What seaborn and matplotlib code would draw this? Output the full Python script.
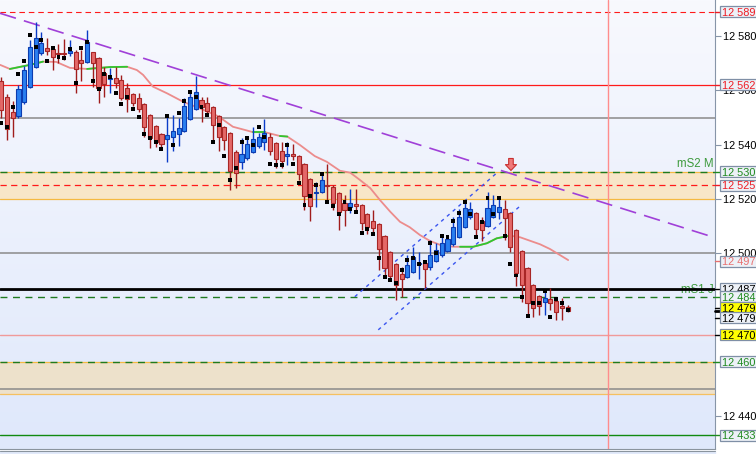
import numpy as np
import pandas as pd
import matplotlib
matplotlib.use("Agg")
import matplotlib.pyplot as plt
import seaborn as sns
from matplotlib.colors import LinearSegmentedColormap
from matplotlib.lines import Line2D
from matplotlib.patches import Rectangle

# --- candle data (5 min bars) ---
opens = [12563.5, 12557.7, 12551.9, 12550.7, 12555.6, 12561.4, 12568.7, 12573.9, 12575.5, 12575.1,
         12573.8, 12573.8, 12573.7, 12574.0, 12571.2, 12570.6, 12574.0, 12571.8, 12566.5, 12564.2,
         12564.5, 12563.8, 12560.8, 12558.6, 12557.1, 12554.9, 12550.8, 12546.8, 12543.8, 12542.0,
         12542.7, 12543.8, 12544.9, 12549.4, 12553.3, 12556.5, 12555.3, 12553.8, 12550.6, 12546.7,
         12544.2, 12537.4, 12533.5, 12535.0, 12537.4, 12539.6, 12541.1, 12542.7, 12540.5, 12537.7,
         12536.0, 12536.4, 12536.0, 12532.8, 12527.4, 12522.2, 12522.5, 12525.2, 12524.5, 12522.1,
         12518.4, 12517.2, 12518.0, 12517.8, 12514.5, 12511.9, 12510.7, 12506.4, 12500.5, 12496.0,
         12492.3, 12491.2, 12493.2, 12495.9, 12496.3, 12495.1, 12497.3, 12499.4, 12501.0, 12503.3,
         12506.1, 12509.8, 12513.3, 12514.7, 12511.9, 12510.2, 12513.5, 12515.3, 12516.2, 12514.7,
         12508.6, 12500.9, 12494.5, 12488.3, 12484.3, 12482.2, 12483.1, 12482.4, 12480.2, 12480.1]
highs = [12564.9, 12558.7, 12556.1, 12562.0, 12569.0, 12578.6, 12585.2, 12581.6, 12579.2, 12576.1,
         12577.1, 12578.8, 12578.6, 12574.9, 12574.9, 12582.3, 12574.3, 12572.3, 12568.7, 12568.1,
         12568.7, 12565.7, 12562.6, 12559.0, 12558.9, 12555.4, 12551.2, 12547.3, 12544.2, 12550.9,
         12550.9, 12549.7, 12557.1, 12559.5, 12565.3, 12557.7, 12557.5, 12554.3, 12550.9, 12547.0,
         12544.6, 12538.1, 12542.4, 12542.8, 12546.4, 12544.3, 12549.5, 12544.2, 12541.0, 12541.1,
         12540.9, 12540.3, 12536.2, 12533.3, 12527.8, 12526.4, 12529.7, 12532.9, 12525.2, 12522.5,
         12521.5, 12523.6, 12523.6, 12518.2, 12515.0, 12516.0, 12511.1, 12506.8, 12500.9, 12496.4,
         12495.1, 12499.4, 12502.2, 12500.5, 12497.2, 12504.9, 12503.9, 12506.8, 12506.8, 12513.5,
         12516.2, 12519.6, 12519.0, 12515.2, 12513.3, 12522.7, 12521.5, 12520.5, 12519.6, 12515.2,
         12508.9, 12501.2, 12495.0, 12488.7, 12484.7, 12486.5, 12487.2, 12483.4, 12483.4, 12481.0]
lows = [12549.8, 12541.7, 12543.0, 12549.8, 12555.0, 12560.9, 12568.3, 12573.0, 12573.0, 12567.5,
        12570.0, 12571.2, 12572.7, 12559.2, 12563.5, 12570.1, 12561.4, 12555.3, 12557.7, 12559.2,
        12560.9, 12556.5, 12552.2, 12554.2, 12552.1, 12543.0, 12538.7, 12539.3, 12538.1, 12533.7,
        12537.8, 12539.6, 12544.7, 12549.1, 12552.8, 12548.5, 12551.7, 12541.1, 12537.8, 12538.1,
        12523.3, 12524.0, 12530.9, 12534.4, 12536.9, 12538.8, 12538.1, 12536.2, 12531.3, 12531.3,
        12532.5, 12534.4, 12527.0, 12516.0, 12512.0, 12517.2, 12522.2, 12518.4, 12516.0, 12508.6,
        12510.2, 12515.0, 12516.0, 12508.6, 12507.1, 12507.9, 12493.9, 12491.2, 12490.2, 12482.8,
        12484.0, 12490.9, 12492.8, 12490.7, 12487.3, 12493.9, 12496.8, 12498.6, 12500.5, 12502.7,
        12505.6, 12509.3, 12512.6, 12505.5, 12504.5, 12509.7, 12513.0, 12512.5, 12504.9, 12500.5,
        12488.0, 12482.2, 12476.9, 12476.7, 12477.3, 12477.3, 12479.1, 12475.4, 12475.4, 12478.5]
closes = [12552.8, 12545.7, 12549.7, 12560.4, 12567.5, 12575.9, 12579.2, 12577.4, 12574.6, 12572.4,
          12573.4, 12573.4, 12574.6, 12567.9, 12570.0, 12577.9, 12570.0, 12561.0, 12562.4, 12564.6,
          12562.6, 12557.3, 12556.7, 12555.3, 12553.0, 12546.6, 12542.6, 12541.1, 12540.2, 12543.6,
          12544.9, 12546.2, 12554.3, 12557.5, 12559.3, 12554.0, 12552.5, 12547.2, 12543.0, 12541.9,
          12530.4, 12529.5, 12536.5, 12540.2, 12542.0, 12542.7, 12544.2, 12537.8, 12534.6, 12534.1,
          12536.4, 12536.0, 12529.1, 12521.1, 12517.5, 12522.6, 12527.0, 12524.7, 12518.4, 12515.1,
          12515.9, 12518.4, 12517.4, 12511.1, 12509.8, 12509.4, 12501.5, 12494.7, 12491.8, 12488.3,
          12490.5, 12495.6, 12498.8, 12496.3, 12494.1, 12499.4, 12501.2, 12503.7, 12505.3, 12509.6,
          12513.3, 12516.6, 12516.2, 12509.0, 12508.6, 12516.6, 12517.8, 12516.9, 12512.9, 12502.2,
          12492.6, 12488.3, 12481.6, 12479.7, 12480.7, 12483.7, 12481.6, 12478.3, 12480.0, 12478.8]
# black square indicator, one per bar
dots = [12548.0, 12546.4, 12554.0, 12566.0, 12570.7, 12580.3, 12575.9, 12578.5, 12570.7, 12575.5,
        12572.4, 12571.8, 12575.1, 12562.7, 12575.5, 12577.7, 12563.5, 12560.4, 12566.0, 12565.1,
        12558.9, 12554.9, 12557.5, 12553.2, 12550.2, 12543.8, 12542.5, 12540.9, 12538.3, 12550.5,
        12539.8, 12551.6, 12556.2, 12559.3, 12557.5, 12553.8, 12550.8, 12540.9, 12547.2, 12535.7,
        12526.9, 12531.3, 12540.9, 12542.4, 12539.9, 12546.4, 12542.7, 12532.9, 12532.4, 12532.4,
        12539.9, 12532.9, 12525.8, 12517.7, 12521.1, 12525.1, 12529.1, 12518.8, 12517.5, 12514.4,
        12518.8, 12516.2, 12515.1, 12507.4, 12509.0, 12507.1, 12498.2, 12491.2, 12490.2, 12489.0,
        12493.9, 12497.5, 12498.2, 12496.1, 12496.7, 12503.9, 12500.0, 12506.4, 12505.9, 12511.9,
        12514.7, 12518.8, 12514.4, 12505.9, 12511.6, 12520.5, 12514.4, 12520.5, 12506.4, 12496.0,
        12491.8, 12484.0, 12476.9, 12481.8, 12481.6, 12486.2, 12476.4, 12483.1, 12481.6, 12479.1]

# moving average (bar index, value) and its green (rising) stretches
ma_idx = [-0.2, 1.5, 5.0, 7.3, 9.6, 12.0, 15.0, 19.0, 22.0, 23.7, 24.8, 26.5, 29.0, 31.8, 34.7,
          37.9, 40.5, 43.0, 44.0, 46.1, 48.7, 50.0, 52.2, 54.8, 56.9, 59.2, 61.0, 62.7, 64.5, 66.2,
          68.0, 69.7, 71.4, 73.2, 74.9, 76.7, 79.0, 80.2, 82.5, 84.9, 86.6, 88.9, 90.7, 94.2, 95.9, 99.1]
ma_val = [12569.4, 12567.9, 12569.4, 12570.6, 12570.5, 12568.3, 12567.9, 12568.6, 12568.7, 12567.5,
          12565.7, 12561.4, 12558.9, 12555.8, 12553.4, 12550.5, 12546.6, 12545.2, 12544.6, 12544.6,
          12543.2, 12543.0, 12539.9, 12535.8, 12533.7, 12530.4, 12529.7, 12527.0, 12524.0, 12519.6,
          12515.3, 12511.6, 12509.6, 12506.7, 12504.6, 12503.1, 12502.4, 12502.4, 12502.4, 12503.7,
          12505.5, 12506.5, 12505.9, 12503.3, 12501.6, 12497.5]
ma_green_runs = [(1.5, 7.3), (15.0, 22.0), (44.0, 46.1), (48.7, 50.0), (80.2, 88.9)]

# drawn objects
trend_idx = [-0.2, 43.5]
trend_val = [12588.4, 12559.5]
chan_up_idx, chan_up_val = [61.8, 86.9], [12484.0, 12530.1]
chan_lo_idx, chan_lo_val = [65.9, 90.7], [12471.8, 12517.4]
arrow_idx, arrow_val = 89.1, 12530.5
cursor_idx = 106.1

zones = [(12520, 12530, "#f8e6c8"), (12448, 12460, "#ede1cb")]
levels = [
    (12589, "#ff1a1a", (0, (5, 3.5)), 0.8),
    (12562, "#ff1a1a", "-", 0.9),
    (12550, "#8a8a8a", "-", 1.1),
    (12530, "#f5b942", "-", 0.9),
    (12520, "#f5b942", "-", 0.9),
    (12530, "#1f7a1f", (0, (5, 4)), 1.0),
    (12525, "#ff1a1a", (0, (5, 3.5)), 0.9),
    (12500, "#8a8a8a", "-", 1.1),
    (12487, "#000000", "-", 2.0),
    (12484, "#1f7a1f", (0, (5, 4)), 1.0),
    (12470, "#f09a9a", "-", 1.0),
    (12460, "#f5b942", "-", 0.9),
    (12460, "#1f7a1f", (0, (5, 4)), 1.0),
    (12450, "#8a8a8a", "-", 1.1),
    (12448, "#f5c060", "-", 0.9),
    (12433, "#108a10", "-", 1.0),
]

tick_vals = [12580, 12560, 12540, 12520, 12500, 12480, 12460, 12440]
box_vals = [12589, 12562, 12530, 12525, 12497, 12487, 12484, 12479, 12479, 12470, 12460, 12433]
box_text_col = ["#ee1c24", "#ee1c24", "#1f8a1f", "#ee1c24", "#e87070", "#000000", "#1f8a1f",
                "#000000", "#000000", "#000000", "#1f8a1f", "#1f8a1f"]
box_face = ["#edf1f7", "#edf1f7", "#edf1f7", "#edf1f7", "#edf1f7", "#edf1f7", "#edf1f7",
            "#ffff00", "#edf1f7", "#ffff00", "#edf1f7", "#edf1f7"]


def fmt(v):
    return f"{int(round(v)):,}".replace(",", " ")


sns.set_style("white")
plt.rcParams["font.family"] = ["Liberation Sans", "DejaVu Sans"]

W, H = 756, 454
fig = plt.figure(figsize=(W / 100, H / 100), dpi=100)
fig.patch.set_facecolor("white")
ax = fig.add_axes([0, 5 / H, 715 / W, 449 / H])

x = np.arange(len(opens))
ax.set_xlim(-0.227, 124.77)
ax.set_ylim(12427.9, 12593.3)
px = (12593.3 - 12427.9) / 449  # price units per pixel

# background gradient
grad = LinearSegmentedColormap.from_list("bg", ["#f8f9fe", "#dfe8fb"])
ax.imshow(np.linspace(0, 1, 256).reshape(-1, 1), extent=[0, 1, 0, 1], transform=ax.transAxes,
          cmap=grad, aspect="auto", zorder=-10)

for lo, hi, col in zones:
    ax.axhspan(lo, hi, color=col, lw=0, zorder=0.5)
for val, col, ls, lw in levels:
    ax.axhline(val, color=col, ls=ls, lw=lw, zorder=1)
ax.axvline(cursor_idx, color="#ff8c8c", lw=1, zorder=1)

ax.text(124.5, 12530.6, "mS2 M", color="#3c9a3c", fontsize=8.3, ha="right", va="bottom", zorder=1)
ax.text(124.5, 12484.4, "mS1 J", color="#3c9a3c", fontsize=8.3, ha="right", va="bottom", zorder=0.9)

# trend line and channel
ax.axline((trend_idx[0], trend_val[0]), (trend_idx[1], trend_val[1]), color="#a040d8",
          lw=1.2, ls=(0, (10, 5)), zorder=2)
ax.plot(chan_up_idx, chan_up_val, color="#3a55f0", lw=1.0, ls=(0, (2.5, 3)), zorder=2)
ax.plot(chan_lo_idx, chan_lo_val, color="#3a55f0", lw=1.0, ls=(0, (2.5, 3)), zorder=2)

# moving average
ma = pd.DataFrame({"idx": ma_idx, "val": ma_val})
sns.lineplot(data=ma, x="idx", y="val", color="#ec8c8c", lw=1.3, sort=False, estimator=None,
             ax=ax, zorder=3)
for a, b in ma_green_runs:
    seg = ma[(ma["idx"] >= a) & (ma["idx"] <= b)]
    sns.lineplot(data=seg, x="idx", y="val", color="#2ec82e", lw=1.3, sort=False,
                 estimator=None, ax=ax, zorder=3)

# candles
o, h, l, c = map(np.array, (opens, highs, lows, closes))
up = c >= o
wick_col = np.where(up, "#0a3cc8", "#a01c1c")
body_col = np.where(up, "#2a7ff0", "#e46868")
edge_col = np.where(up, "#0c3cb0", "#a82626")
ax.vlines(x, l, h, colors=wick_col, lw=1.0, zorder=4)
ax.bar(x, np.maximum(np.abs(c - o), 0.45), bottom=np.minimum(o, c), width=0.72,
       color=body_col, edgecolor=edge_col, linewidth=0.8, zorder=5)
sns.scatterplot(x=x, y=dots, marker="s", s=8, color="black", edgecolor="none", ax=ax,
                zorder=6, legend=False)

# down arrow on the trend line / zone crossing
ax.annotate("", xy=(arrow_idx, arrow_val), xytext=(arrow_idx, arrow_val + 12 * px),
            arrowprops=dict(arrowstyle="simple,head_width=0.8,head_length=0.42,tail_width=0.33",
                            mutation_scale=10, shrinkA=0, shrinkB=0,
                            fc="#f07a7a", ec="#c83030", lw=0.8), zorder=7)

# axes styling and right price scale
for s in ["top", "left"]:
    ax.spines[s].set_visible(False)
ax.spines["right"].set_color("#8795a8")
ax.spines["bottom"].set_color("#8a949e")
ax.set_xticks([])
ax.yaxis.tick_right()
ax.set_yticks(tick_vals)
ax.set_yticklabels([fmt(v) for v in tick_vals])
ax.tick_params(axis="y", right=True, length=4, width=0.8, color="#8795a8", pad=2.0,
               labelsize=7.9, labelcolor="black")
ax.set_xlabel("")
ax.set_ylabel("")

tr = ax.get_yaxis_transform()
x0 = 720 / 715
for i, (v, tc, fc) in enumerate(zip(box_vals, box_text_col, box_face)):
    pos = v
    if i == 7:
        pos = v + 0.9
    if i == 8:
        pos = v - 2.7
    ax.plot([1.0, x0], [pos, pos], color=tc, lw=1, transform=tr, clip_on=False, zorder=8)
    ax.add_patch(Rectangle((x0, pos - 5.5 * px), 0.06, 11 * px, transform=tr, fc=fc,
                           ec="#7f8fa6", lw=0.9, clip_on=False, zorder=9 + 2 * i))
    ax.text(721.8 / 715, pos, fmt(v), color=tc, fontsize=7.9, ha="left", va="center_baseline",
            transform=tr, clip_on=False, zorder=10 + 2 * i)
ax.plot([1.0, x0], [closes[-1], closes[-1]], color="black", lw=2, transform=tr,
        clip_on=False, zorder=8)

# bottom strip under the chart pane
fig.patches.append(Rectangle((0, 0), 715 / W, 3 / H, transform=fig.transFigure,
                             color="#e2eafb", zorder=0))
fig.lines.append(Line2D([0, 715 / W], [3 / H, 3 / H], transform=fig.transFigure,
                        color="#8a949e", lw=0.8))

fig.savefig("out.png", dpi=100)
